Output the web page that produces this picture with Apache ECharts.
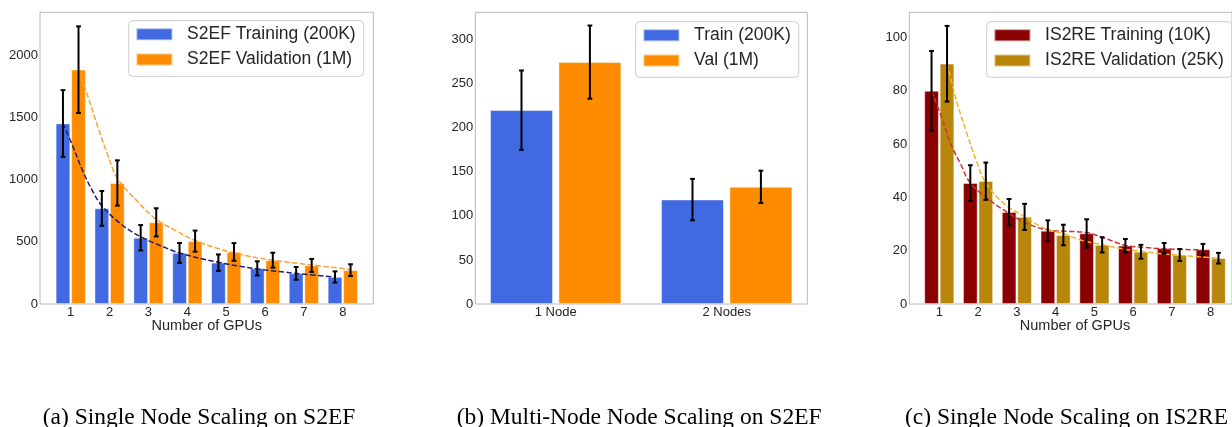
<!DOCTYPE html>
<html><head><meta charset="utf-8">
<script src="https://cdn.jsdelivr.net/npm/echarts@6/dist/echarts.min.js"></script>
<style>html,body{margin:0;padding:0;background:#fff}#c{width:1232px;height:427px}</style>
</head><body><div id="c"></div>
<script>
// ---------- data ----------
const gpuCats = ['1', '2', '3', '4', '5', '6', '7', '8'];
const nodeCats = ['1 Node', '2 Nodes'];

// (a) S2EF single node
const trainA    = [1450, 768, 532, 410, 332, 286, 246, 217];
const trainErrA = [268, 140, 102, 80, 66, 57, 51, 45];
const valA      = [1882, 972, 656, 505, 418, 352, 310, 272];
const valErrA   = [348, 182, 113, 85, 71, 60, 52, 47];
const fitGpusA  = [1, 1.25, 1.5, 1.75, 2, 2.5, 3, 3.5, 4, 5, 6, 7, 8];
const trainFitA = [1451, 1270, 1075, 915, 790, 640, 540, 470, 410, 335, 282, 246, 216];
const valFitA   = [1880, 1660, 1420, 1200, 1010, 830, 680, 590, 510, 410, 352, 314, 278];

// (b) S2EF multi node
const trainB    = [220, 118.5];
const trainErrB = [45, 23.5];
const valB      = [274.5, 133];
const valErrB   = [41.5, 18.3];

// (c) IS2RE single node
const trainC    = [80, 45.4, 34.5, 27.5, 26.5, 21.9, 20.9, 20.5];
const trainErrC = [15, 6.7, 4.9, 3.9, 5.3, 2.5, 2.0, 2.05];
const valC      = [90.2, 46.1, 32.7, 25.9, 22.2, 19.6, 18.4, 17.2];
const valErrC   = [14.2, 7, 4.9, 3.85, 2.85, 2.6, 2.25, 2];
const fitGpusC  = [1, 1.25, 1.5, 1.75, 2, 2.5, 3, 3.5, 4, 4.5, 5, 5.5, 6, 6.5, 7, 8];
const trainFitC = [80, 70.5, 60, 52.5, 45.5, 39, 34, 30, 27.8, 27.3, 26.8, 24.5, 22, 21.2, 20.7, 20.3];
const fitGpusC2 = [1, 1.25, 1.5, 1.75, 2, 2.5, 3, 3.5, 4, 4.5, 5, 5.5, 6, 6.5, 7, 7.5, 8];
const valFitC   = [90.4, 76, 64.5, 54, 45.5, 37.3, 32.8, 28.5, 26.4, 23.8, 22.3, 20.8, 19.8, 18.9, 18.3, 17.7, 17.2];

const captions = ['(a) Single Node Scaling on S2EF', '(b) Multi-Node Node Scaling on S2EF', '(c) Single Node Scaling on IS2RE'];
const legA = ['S2EF Training (200K)', 'S2EF Validation (1M)'];
const legB = ['Train (200K)', 'Val (1M)'];
const legC = ['IS2RE Training (10K)', 'IS2RE Validation (25K)'];

// ---------- styling helpers ----------
const FONT = 'Liberation Sans';
const TXT = '#262626';
const FRAME = '#b8b8b8';

function frameGrid(left, width) {
  return { left: left, top: 12.3, width: width, height: 291.7, show: true,
           borderColor: FRAME, borderWidth: 1, backgroundColor: 'transparent', containLabel: false };
}
function dataGrid(left, width) {
  return { left: left, top: 12.3, width: width, height: 291.7, show: false, containLabel: false };
}
function hiddenX(grid, min, max) {
  return { type: 'value', gridIndex: grid, min: min, max: max, show: false };
}
function catX(grid, cats, name) {
  return { type: 'category', gridIndex: grid, data: cats, boundaryGap: true,
    axisLine: { show: false }, axisTick: { show: false }, splitLine: { show: false },
    axisLabel: { fontFamily: FONT, fontSize: 13, color: TXT, margin: 2 },
    name: name || '', nameLocation: 'middle', nameGap: 14, nameMoveOverlap: false,
    nameTextStyle: { fontFamily: FONT, fontSize: 14.5, color: TXT } };
}
function frameY(grid, max, interval) {
  return { type: 'value', gridIndex: grid, min: 0, max: max, interval: interval,
    axisLine: { show: false }, axisTick: { show: false }, splitLine: { show: false },
    axisLabel: { fontFamily: FONT, fontSize: 13, color: TXT, margin: 2,
      formatter: v => (Math.abs(v % interval) < 1e-9 ? String(v) : '') } };
}
function hiddenY(grid, max) {
  return { type: 'value', gridIndex: grid, min: 0, max: max, show: false };
}
function bars(name, xi, yi, vals, color, width, gap) {
  return { type: 'bar', name: name, xAxisIndex: xi, yAxisIndex: yi, data: vals,
    barWidth: width, barGap: gap, z: 2, silent: true,
    itemStyle: { color: color, borderColor: 'rgba(255,255,255,0.55)', borderWidth: 0.8 } };
}
function errs(xi, yi, vals, es, off) {
  return { type: 'custom', xAxisIndex: xi, yAxisIndex: yi, z: 10, silent: true,
    encode: { x: 0, y: 1 },
    data: vals.map((v, i) => [i, v, es[i]]),
    renderItem: (params, api) => {
      const i = api.value(0), v = api.value(1), e = api.value(2);
      const band = api.size([1, 0])[0];
      const x = api.coord([i, v])[0] + off * band;
      const y1 = api.coord([i, v + e])[1], y2 = api.coord([i, v - e])[1];
      const st = { stroke: '#000', lineWidth: 2 };
      const c = 2.4;
      return { type: 'group', children: [
        { type: 'line', shape: { x1: x, y1: y1, x2: x, y2: y2 }, style: st },
        { type: 'line', shape: { x1: x - c, y1: y1, x2: x + c, y2: y1 }, style: st },
        { type: 'line', shape: { x1: x - c, y1: y2, x2: x + c, y2: y2 }, style: st }
      ] };
    } };
}
function fit(xi, yi, gpus, vals, color, off) {
  return { type: 'line', xAxisIndex: xi, yAxisIndex: yi, z: 5, silent: true,
    data: gpus.map((g, i) => [g - 1 + off, vals[i]]),
    smooth: 0.4, showSymbol: false, symbol: 'none',
    lineStyle: { color: color, width: 1.5, type: [5.5, 2.4] } };
}
function legend(names, left, top) {
  return { data: names, left: left, top: top, orient: 'vertical', selectedMode: false,
    icon: 'rect', itemWidth: 36, itemHeight: 12, itemGap: 7.3,
    padding: [4.6, 8, 7.7, 6.7], borderColor: '#cccccc', borderWidth: 1, borderRadius: 4,
    backgroundColor: 'rgba(255,255,255,0.85)',
    textStyle: { fontFamily: FONT, fontSize: 17.5, lineHeight: 18, color: TXT, padding: [0, 0, 0, 9.7] } };
}

const option = {
  animation: false,
  backgroundColor: '#fff',
  grid: [
    frameGrid(40, 333.3), dataGrid(51.3, 310.9),
    frameGrid(475.3, 332), dataGrid(470.2, 342),
    frameGrid(909.3, 333), dataGrid(919.9, 310.2)
  ],
  xAxis: [
    hiddenX(0, 0, 1),                         // 0 frame A
    catX(1, gpuCats, 'Number of GPUs'),       // 1 data A
    hiddenX(1, -0.5, 7.5),                    // 2 data A (fit lines)
    hiddenX(2, 0, 1),                         // 3 frame B
    catX(3, nodeCats, ''),                    // 4 data B
    hiddenX(4, 0, 1),                         // 5 frame C
    catX(5, gpuCats, 'Number of GPUs'),       // 6 data C
    hiddenX(5, -0.5, 7.5)                     // 7 data C (fit lines)
  ],
  yAxis: [
    frameY(0, 2343, 500), hiddenY(1, 2343),
    frameY(2, 331, 50), hiddenY(3, 331),
    frameY(4, 109.5, 20), hiddenY(5, 109.5)
  ],
  legend: [
    legend(legA, 128.7, 20.7),
    legend(legB, 635.7, 21.7),
    legend(legC, 986.7, 21.7)
  ],
  series: [
    bars(legA[0], 1, 1, trainA, '#4169e1', '37.3%', '7%'),
    bars(legA[1], 1, 1, valA, '#ff8c00', '37.3%', '7%'),
    fit(2, 1, fitGpusA, trainFitA, '#1e1e78', -0.2),
    fit(2, 1, fitGpusA, valFitA, '#ffa033', 0.2),
    errs(1, 1, trainA, trainErrA, -0.2),
    errs(1, 1, valA, valErrA, 0.2),

    bars(legB[0], 4, 3, trainB, '#4169e1', '36.7%', '9%'),
    bars(legB[1], 4, 3, valB, '#ff8c00', '36.7%', '9%'),
    errs(4, 3, trainB, trainErrB, -0.2),
    errs(4, 3, valB, valErrB, 0.2),

    bars(legC[0], 6, 5, trainC, '#8b0000', '37.3%', '7%'),
    bars(legC[1], 6, 5, valC, '#b8860b', '37.3%', '7%'),
    fit(7, 5, fitGpusC, trainFitC, '#cc3333', -0.2),
    fit(7, 5, fitGpusC2, valFitC, '#f0b429', 0.2),
    errs(6, 5, trainC, trainErrC, -0.2),
    errs(6, 5, valC, valErrC, 0.2)
  ],
  graphic: [
    { type: 'text', left: 42.7, top: 405.5, style: { text: captions[0], font: '23.5px "Liberation Serif"', fill: '#000' } },
    { type: 'text', left: 456.7, top: 405.5, style: { text: captions[1], font: '23.5px "Liberation Serif"', fill: '#000' } },
    { type: 'text', left: 905, top: 405.5, style: { text: captions[2], font: '23.5px "Liberation Serif"', fill: '#000' } }
  ]
};

const chart = echarts.init(document.getElementById('c'), null, { renderer: 'canvas' });
chart.setOption(option);
</script>
</body></html>
